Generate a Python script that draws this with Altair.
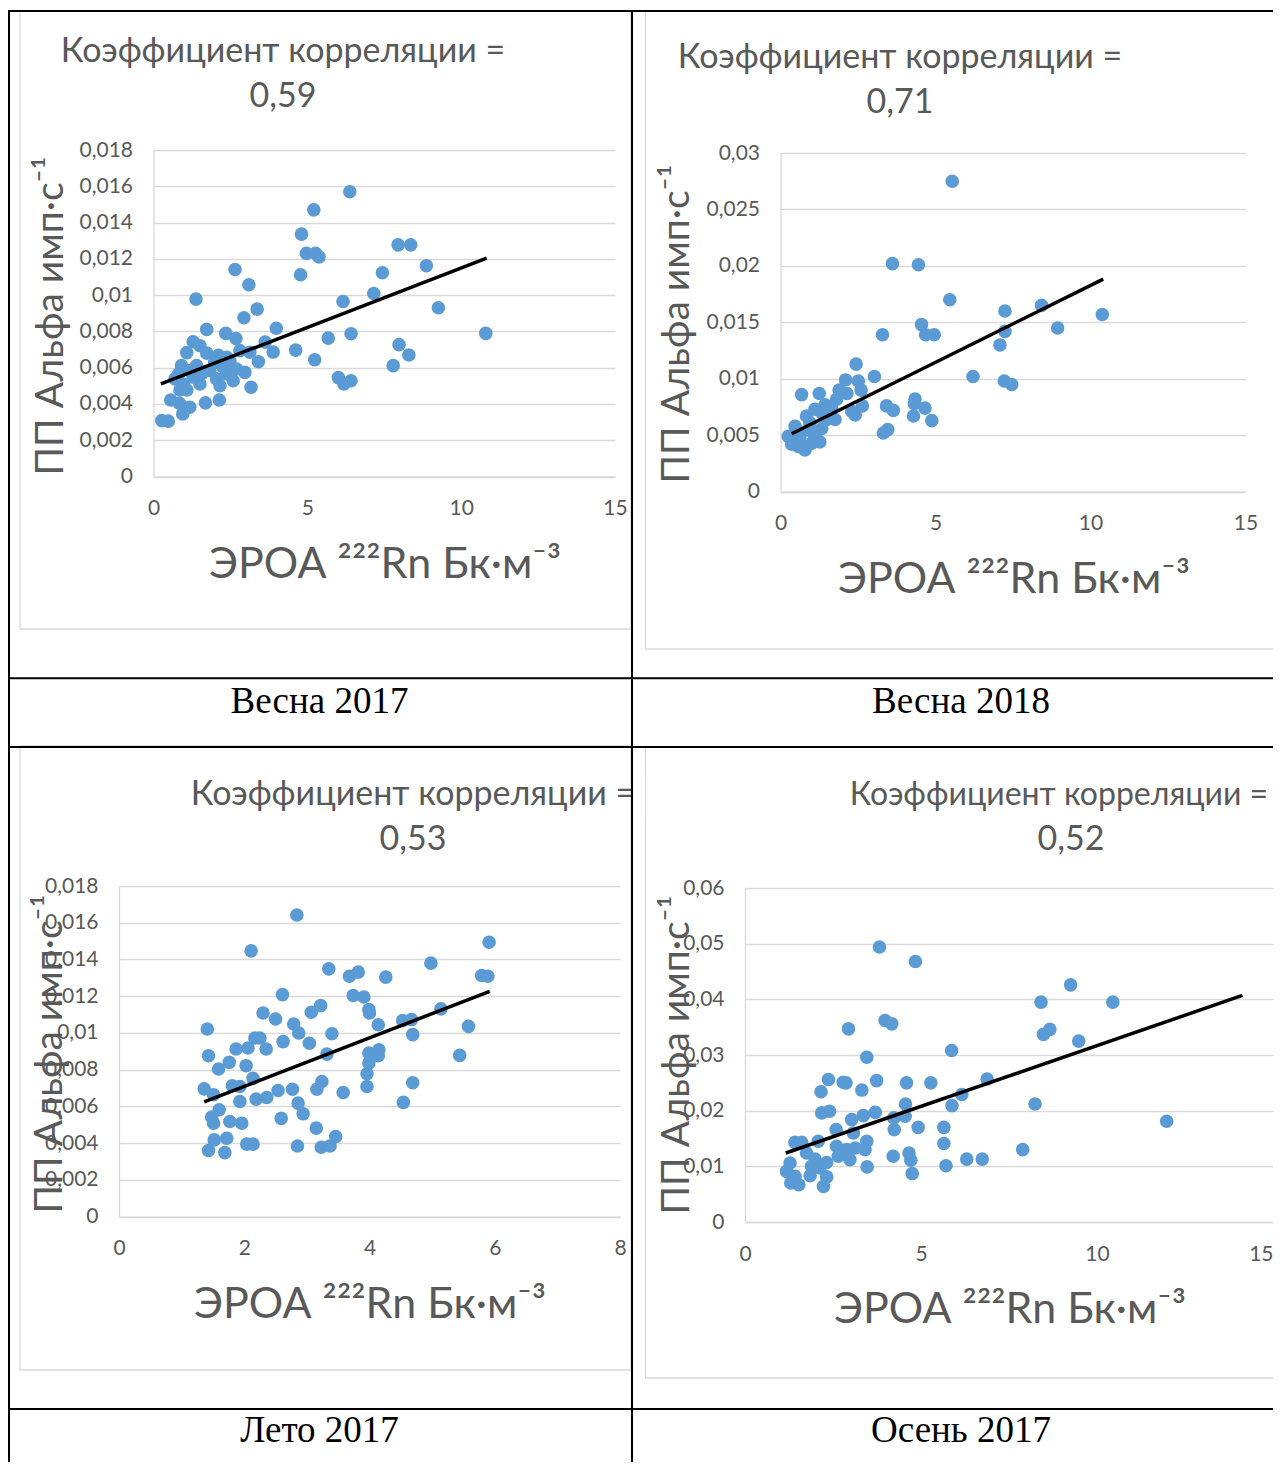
import altair as alt
import pandas as pd

# ---------------- data ----------------
TITLE_TEXT = "Коэффициент корреляции ="
CORR = ["0,59", "0,71", "0,53", "0,52"]
SEASONS = ["Весна 2017", "Весна 2018", "Лето 2017", "Осень 2017"]
X_TITLE = "ЭРОА ²²²Rn Бк·м⁻³"
Y_TITLE = "ПП Альфа имп·с⁻¹"

P1_X = [6.38, 5.21, 4.81, 4.97, 5.27, 5.38, 4.78, 7.95, 8.36, 7.44,
        8.87, 7.16, 6.16, 9.26, 10.80, 6.42, 5.68, 4.62, 5.24, 7.98,
        8.30, 7.79, 6.01, 6.19, 6.42, 2.65, 3.10, 1.38, 3.37, 2.94,
        3.99, 1.73, 2.35, 2.68, 3.63, 3.89, 3.41, 1.29, 1.08, 1.51,
        1.73, 2.11, 2.48, 2.81, 3.13, 0.91, 0.81, 1.18, 1.83, 2.27,
        2.70, 2.97, 0.97, 1.51, 2.05, 2.59, 2.16, 3.17, 0.56, 1.18,
        0.95, 1.69, 2.14, 0.27, 0.48, 0.86, 1.29, 2.38, 0.70, 1.40,
        1.99, 2.38, 1.08, 0.84, 1.56]
P1_Y = [0.0157, 0.0147, 0.01336, 0.0123, 0.0123, 0.0121, 0.01112, 0.01277, 0.01277, 0.01123,
        0.01162, 0.01009, 0.00965, 0.0093, 0.00789, 0.00787, 0.00763, 0.00697, 0.00644, 0.00727,
        0.0067, 0.00611, 0.00545, 0.0051, 0.00528, 0.01141, 0.01057, 0.00978, 0.00923, 0.00875,
        0.00817, 0.00811, 0.00789, 0.00761, 0.00741, 0.00686, 0.00633, 0.00743, 0.00683, 0.00721,
        0.0068, 0.00668, 0.00639, 0.00694, 0.00685, 0.00611, 0.00565, 0.00584, 0.00584, 0.00602,
        0.00593, 0.00574, 0.0051, 0.0051, 0.00538, 0.00528, 0.00501, 0.00492, 0.00422, 0.00382,
        0.00345, 0.00406, 0.00422, 0.00308, 0.00305, 0.00477, 0.00547, 0.00565, 0.00538, 0.00611,
        0.00629, 0.00657, 0.00477, 0.00404, 0.00565]
P1_TX = [0.24, 10.83]
P1_TY = [0.0051, 0.01204]

P2_X = [5.54, 3.61, 4.45, 5.46, 7.24, 8.42, 10.38, 8.94, 7.24, 7.08,
        4.55, 4.68, 4.96, 3.29, 6.21, 7.22, 7.46, 2.44, 3.03, 2.10,
        2.51, 1.89, 2.14, 2.60, 0.68, 1.25, 1.81, 2.64, 2.41, 2.30,
        1.76, 3.42, 3.64, 4.34, 4.32, 4.66, 4.29, 4.88, 3.32, 3.46,
        1.11, 0.84, 1.33, 1.49, 0.47, 0.90, 1.33, 0.63, 1.11, 0.36,
        0.79, 0.47, 1.01, 1.27, 1.44, 1.65, 0.58, 0.95, 0.25, 0.63, 1.06]
P2_Y = [0.0275, 0.0202, 0.0201, 0.0170, 0.0160, 0.0165, 0.0157, 0.0145, 0.0142, 0.0130,
        0.0148, 0.0139, 0.0139, 0.0139, 0.0102, 0.0098, 0.0095, 0.0113, 0.0102, 0.0099,
        0.0098, 0.0090, 0.0087, 0.0090, 0.0086, 0.0087, 0.0082, 0.0076, 0.0068, 0.0071,
        0.0064, 0.0076, 0.0072, 0.0082, 0.0078, 0.0074, 0.0067, 0.0063, 0.0052, 0.0055,
        0.0073, 0.0067, 0.0070, 0.0064, 0.0058, 0.0055, 0.0056, 0.0049, 0.0049, 0.0042,
        0.0037, 0.0046, 0.0043, 0.0044, 0.0077, 0.0074, 0.0040, 0.0061, 0.0049, 0.0044, 0.0052]
P2_TX = [0.36, 10.41]
P2_TY = [0.00513, 0.01883]

P3_X = [2.84, 2.11, 5.91, 4.98, 5.79, 5.89, 3.35, 3.68, 3.82, 4.26,
        2.61, 3.74, 3.91, 3.99, 4.00, 4.14, 5.14, 5.58, 4.53, 4.67,
        4.69, 3.07, 3.22, 2.30, 2.50, 2.79, 2.87, 3.40, 1.41, 2.17,
        2.25, 2.62, 3.04, 3.32, 3.99, 4.15, 4.14, 3.99, 3.96, 3.96,
        4.69, 4.54, 5.44, 1.43, 1.59, 1.76, 1.87, 2.06, 2.35, 2.03,
        2.14, 1.36, 1.51, 1.81, 1.93, 1.93, 2.19, 2.36, 2.54, 2.77,
        2.86, 2.94, 3.16, 3.24, 3.58, 1.60, 1.48, 1.51, 1.77, 1.96,
        2.59, 3.15, 1.52, 1.72, 1.43, 1.69, 2.04, 2.14, 2.85, 3.23,
        3.37, 3.46]
P3_Y = [0.01642, 0.01447, 0.01494, 0.0138, 0.01313, 0.01309, 0.01349, 0.01309, 0.01331, 0.01304,
        0.01209, 0.01204, 0.01196, 0.01127, 0.01109, 0.01045, 0.01131, 0.01036, 0.01067, 0.01073,
        0.00991, 0.01113, 0.01149, 0.01109, 0.01076, 0.01049, 0.01000, 0.00996, 0.01022, 0.00973,
        0.00973, 0.00953, 0.00944, 0.00885, 0.00891, 0.00909, 0.00876, 0.00836, 0.00778, 0.00709,
        0.00729, 0.00622, 0.00878, 0.00876, 0.00804, 0.0084, 0.00913, 0.00918, 0.00913, 0.00822,
        0.00753, 0.00696, 0.00664, 0.00713, 0.00709, 0.00627, 0.0064, 0.00649, 0.00687, 0.00694,
        0.00618, 0.0056, 0.00694, 0.00736, 0.00676, 0.00582, 0.00542, 0.00509, 0.00518, 0.00509,
        0.00535, 0.00482, 0.00418, 0.00427, 0.0036, 0.00349, 0.00395, 0.00395, 0.00385, 0.00378,
        0.00385, 0.00436]
P3_TX = [1.36, 5.92]
P3_TY = [0.00625, 0.01227]

P4_X = [3.82, 4.84, 2.94, 3.98, 4.17, 3.46, 5.87, 2.37, 2.79, 2.87,
        3.74, 4.59, 5.28, 6.88, 2.16, 3.32, 4.56, 5.88, 6.16, 8.24,
        2.18, 2.40, 3.03, 3.36, 3.70, 4.23, 4.55, 2.59, 3.08, 4.24,
        4.92, 5.65, 5.65, 1.42, 1.61, 2.08, 3.46, 3.41, 2.60, 2.89,
        3.13, 1.75, 1.99, 2.32, 2.65, 2.98, 1.28, 1.18, 1.42, 1.30,
        1.53, 1.85, 2.23, 2.32, 3.47, 4.21, 4.66, 4.71, 4.75, 5.71,
        6.30, 6.74, 7.89, 1.89, 2.13, 9.25, 8.41, 10.45, 8.48, 8.66,
        9.48, 11.98]
P4_Y = [0.0494, 0.0468, 0.0347, 0.0362, 0.0356, 0.0296, 0.0308, 0.0256, 0.0251, 0.0250,
        0.0254, 0.0250, 0.0250, 0.0257, 0.0234, 0.0237, 0.0212, 0.0209, 0.0229, 0.0212,
        0.0196, 0.0199, 0.0184, 0.0191, 0.0197, 0.0187, 0.0190, 0.0166, 0.0160, 0.0166,
        0.0170, 0.0170, 0.0141, 0.0143, 0.0143, 0.0145, 0.0145, 0.0130, 0.0136, 0.0130,
        0.0133, 0.0124, 0.0113, 0.0107, 0.0118, 0.0112, 0.0106, 0.0091, 0.0082, 0.0070,
        0.0067, 0.0083, 0.0064, 0.0081, 0.0099, 0.0118, 0.0124, 0.0111, 0.0087, 0.0101,
        0.0113, 0.0113, 0.0130, 0.0100, 0.0097, 0.0426, 0.0395, 0.0395, 0.0337, 0.0346,
        0.0325, 0.0181]
P4_TX = [1.16, 14.13]
P4_TY = [0.0124, 0.0407]

# ---------------- styling / layout ----------------
W, H = 1265, 1454
FONT = "Lato, 'Noto Sans', sans-serif"
SERIF = "'Liberation Serif', 'Times New Roman', serif"
TXT = "#595959"
GRID = "#d9d9d9"
BLUE = "#5B9BD5"
LABEL_EXPR = "replace(format(datum.value, '~g'), '.', ',')"
DUMMY = alt.Data(values=[{"k": 0}])


def panel(xs, ys, tx, ty, xdom, xvals, ydom, yvals, xr, yr, last_right=False):
    pts = pd.DataFrame({"x": xs, "y": ys})
    tr = pd.DataFrame({"x": tx, "y": ty})
    xsc = alt.Scale(domain=xdom, range=xr, nice=False, zero=False)
    ysc = alt.Scale(domain=ydom, range=yr, nice=False, zero=False)
    common = dict(labelFont=FONT, labelFontSize=21, labelColor=TXT, labelPadding=21,
                  labelFlush=False, ticks=False, domainColor=GRID, domainWidth=1.3,
                  gridColor=GRID, gridWidth=1.3, labelExpr=LABEL_EXPR)
    xextra = {}
    if last_right:
        xextra["labelAlign"] = alt.condition(f"datum.value == {xdom[1]}",
                                             alt.value("right"), alt.value("center"))
    xax = alt.Axis(orient="bottom", offset=yr[0] - H, values=xvals, grid=False,
                   **common, **xextra)
    yax = alt.Axis(orient="left", offset=-xr[0], values=yvals, grid=True, **common)
    ex = alt.X("x:Q", scale=xsc, axis=xax, title=None)
    ey = alt.Y("y:Q", scale=ysc, axis=yax, title=None)
    p = alt.Chart(pts).mark_circle(size=185, color=BLUE, opacity=1).encode(x=ex, y=ey)
    l = alt.Chart(tr).mark_line(color="black", strokeWidth=3.5).encode(x=ex, y=ey)
    return alt.layer(p, l)


def text(s, x, y, size, font=FONT, color=TXT, angle=0, align="center"):
    return alt.Chart(DUMMY).mark_text(
        text=s, font=font, fontSize=size, color=color, angle=angle,
        align=align, baseline="alphabetic"
    ).encode(x=alt.value(x), y=alt.value(y))


def hline(y, x1, x2, color="black", w=2):
    return alt.Chart(DUMMY).mark_rule(color=color, strokeWidth=w).encode(
        x=alt.value(x1), x2=alt.value(x2), y=alt.value(y))


def vline(x, y1, y2, color="black", w=2):
    return alt.Chart(DUMMY).mark_rule(color=color, strokeWidth=w).encode(
        x=alt.value(x), y=alt.value(y1), y2=alt.value(y2))


def box(x1, x2, y1, y2, stroke=GRID, fill="white", fo=0.0, w=1.3):
    return alt.Chart(DUMMY).mark_rect(fill=fill, fillOpacity=fo, stroke=stroke,
                                      strokeWidth=w).encode(
        x=alt.value(x1), x2=alt.value(x2), y=alt.value(y1), y2=alt.value(y2))


layers = []
# chart area frames
layers += [box(12, 623, 3, 621), box(637.5, 1290, 3, 641),
           box(12, 623, 738, 1362), box(637.5, 1290, 739, 1370)]

# panels
layers.append(panel(P1_X, P1_Y, P1_TX, P1_TY, [0, 15], [0, 5, 10, 15],
                    [0, 0.018], [0, 0.002, 0.004, 0.006, 0.008, 0.01, 0.012, 0.014, 0.016, 0.018],
                    [145.5, 607], [468.5, 142]))
layers.append(panel(P2_X, P2_Y, P2_TX, P2_TY, [0, 15], [0, 5, 10, 15],
                    [0, 0.03], [0, 0.005, 0.01, 0.015, 0.02, 0.025, 0.03],
                    [772.5, 1237.5], [483.7, 145]))
layers.append(panel(P3_X, P3_Y, P3_TX, P3_TY, [0, 8], [0, 2, 4, 6, 8],
                    [0, 0.018], [0, 0.002, 0.004, 0.006, 0.008, 0.01, 0.012, 0.014, 0.016, 0.018],
                    [111, 612], [1208.7, 878]))
layers.append(panel(P4_X, P4_Y, P4_TX, P4_TY, [0, 15], [0, 5, 10, 15],
                    [0, 0.06], [0, 0.01, 0.02, 0.03, 0.04, 0.05, 0.06],
                    [737, 1265], [1214, 880], last_right=True))

# chart titles (line 1 x-centre, line 1 size, line 2 x-centre)
title_pos = [(275, 34, 275, 54, 99), (892, 34, 892, 60, 105),
             (405, 34, 405, 797, 842), (1051, 32, 1063, 797, 842)]
for (cx1, fs1, cx2, y1, y2), c in zip(title_pos, CORR):
    layers.append(text(TITLE_TEXT, cx1, y1, fs1))
    layers.append(text(c, cx2, y2, 34))

# axis titles
for cx, by in [(377, 570), (1006, 585), (362, 1310), (1002, 1315)]:
    layers.append(text(X_TITLE, cx, by, 43))
for bx, cy in [(55, 308), (681, 316), (54, 1046), (681, 1047)]:
    layers.append(text(Y_TITLE, bx, cy, 39, angle=270))

# clip the title running into the neighbouring cell
layers.append(box(625, 636.5, 765, 810, stroke="white", fill="white", fo=1, w=0))

# captions
for (cx, by), s in zip([(311.5, 705), (953, 705), (311.5, 1434), (953, 1434)], SEASONS):
    layers.append(text(s, cx, by, 37, font=SERIF, color="black"))

# table borders
layers += [hline(3, 0, W), hline(670.3, 0, W), hline(739, 0, W), hline(1401, 0, W),
           vline(1, 3, H), vline(624, 3, H)]

chart = alt.layer(*layers).resolve_scale(
    x="independent", y="independent"
).resolve_axis(
    x="independent", y="independent"
).properties(
    width=W, height=H, padding=0, autosize=alt.AutoSizeParams(type="none")
).configure_view(strokeWidth=0)

chart.save("out.html", embed_options={"renderer": "svg", "actions": False})
